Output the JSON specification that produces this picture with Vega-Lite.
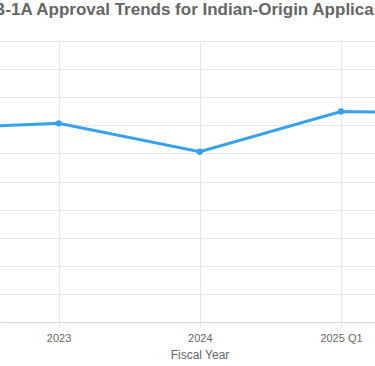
{
  "$schema": "https://vega.github.io/schema/vega-lite/v6.json",
  "autosize": {"type": "none"},
  "padding": {"left": 0, "top": 41, "right": 0, "bottom": 44},
  "width": 375,
  "height": 281,
  "background": "white",
  "title": {
    "text": "EB-1A Approval Trends for Indian-Origin Applicants",
    "anchor": "middle",
    "frame": "group",
    "dx": 3,
    "dy": 8,
    "baseline": "alphabetic",
    "offset": 17,
    "font": "Liberation Sans",
    "fontSize": 17,
    "fontWeight": "bold",
    "color": "#666666"
  },
  "data": {
    "values": [
      {"year": "2022", "order": 0, "rate": 68.7},
      {"year": "2023", "order": 1, "rate": 70.7},
      {"year": "2024", "order": 2, "rate": 60.6},
      {"year": "2025 Q1", "order": 3, "rate": 74.9},
      {"year": "2025 Q2", "order": 4, "rate": 74.1}
    ]
  },
  "config": {
    "view": {"stroke": null},
    "font": "Liberation Sans"
  },
  "encoding": {
    "x": {
      "field": "order",
      "type": "quantitative",
      "scale": {"domain": [0.585, 3.241], "nice": false, "zero": false},
      "axis": {
        "values": [1, 2, 3],
        "labelExpr": "datum.value == 1 ? '2023' : datum.value == 2 ? '2024' : datum.value == 3 ? '2025 Q1' : ''",
        "title": "Fiscal Year",
        "titleX": 199.5,
        "titleFont": "Liberation Sans",
        "titleFontSize": 12,
        "titleFontWeight": "normal",
        "titleColor": "#666666",
        "titlePadding": 6,
        "labelFont": "Liberation Sans",
        "labelFontSize": 11,
        "labelColor": "#666666",
        "labelPadding": 5,
        "grid": true,
        "gridColor": "#e6e6e6",
        "tickColor": "#e6e6e6",
        "tickSize": 5,
        "domainColor": "#d9d9d9"
      }
    },
    "y": {
      "field": "rate",
      "type": "quantitative",
      "scale": {"domain": [0, 100], "nice": false},
      "axis": {
        "values": [0, 10, 20, 30, 40, 50, 60, 70, 80, 90, 100],
        "labels": false,
        "ticks": false,
        "domain": false,
        "title": null,
        "grid": true,
        "gridColor": "#e6e6e6"
      }
    }
  },
  "layer": [
    {
      "mark": {"type": "line", "color": "#36A2EB", "strokeWidth": 3, "clip": true}
    },
    {
      "mark": {"type": "point", "filled": true, "color": "#36A2EB", "size": 40, "opacity": 1, "clip": true}
    }
  ]
}
